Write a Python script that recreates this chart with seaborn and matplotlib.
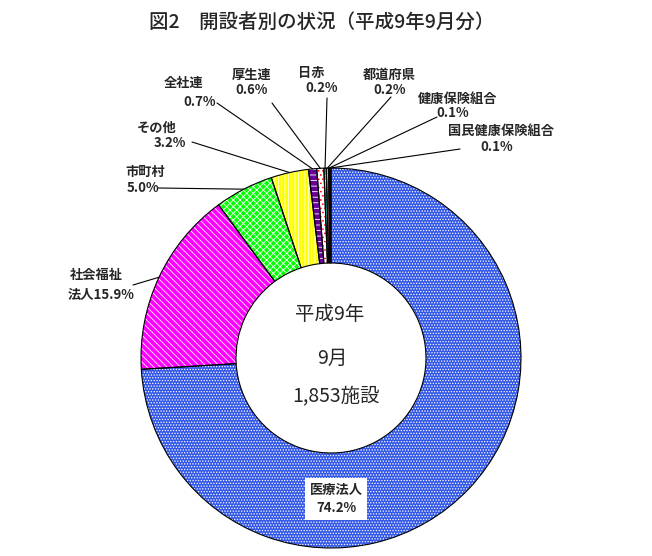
import matplotlib
matplotlib.use("Agg")
import matplotlib.pyplot as plt
import seaborn as sns
import numpy as np

# ---- data ----
categories = ["医療法人", "社会福祉法人", "市町村", "その他", "全社連", "厚生連",
              "日赤", "都道府県", "健康保険組合", "国民健康保険組合"]
shares = [74.2, 15.9, 5.0, 3.2, 0.7, 0.6, 0.2, 0.2, 0.1, 0.1]
title = "図2　開設者別の状況（平成9年9月分）"
center_lines = ["平成9年", "9月", "1,853施設"]

# ---- style ----
face_colors = ["#3358e8", "#ff00ff", "#00ff00", "#ffff00", "#660099", "#ffffff",
               "#00ffff", "#ff8080", "#ffffff", "#ffffff"]
hatch_colors = ["white", "white", "white", "white", "white", "red",
                "white", "#ff8080", "white", "white"]
hatches = ["......", "\\\\\\\\\\", "xxxxx", "|||||", "---", "....", "---", "", "", ""]

# label layout in image pixels: (name line centre, pct line centre, leader start)
label_layout = [
    None,
    ((96, 275), (101, 295), (133, 285)),
    ((145, 172), (143, 188), (158, 188)),
    ((157, 128), (170, 143), (192, 142)),
    ((184, 83), (200, 102), (217, 103)),
    ((252, 75), (252, 90), (272, 103)),
    ((311, 73), (322, 88), (327, 98)),
    ((389, 75), (390, 90), (391, 97)),
    ((458, 99), (453, 113), (437, 117)),
    ((501, 131), (497, 147), (460, 149)),
]

sns.set_theme(style="white")
plt.rcParams["font.family"] = ["Noto Sans CJK JP", "DejaVu Sans"]
plt.rcParams["hatch.linewidth"] = 0.6

W, H = 652, 556
fig = plt.figure(figsize=(W / 100, H / 100), dpi=100)
fig.patch.set_facecolor("white")

cx, cy, R = 331, 358, 190
ax = fig.add_axes([(cx - R) / W, (H - cy - R) / H, 2 * R / W, 2 * R / H])

wedges, _ = ax.pie(shares, startangle=90, counterclock=False, colors=face_colors,
                   wedgeprops=dict(width=0.5, linewidth=0))
for w, hc, h in zip(wedges, hatch_colors, hatches):
    w.set_edgecolor(hc)
    w.set_linewidth(0)
    if h:
        w.set_hatch(h)
ax.pie(shares, startangle=90, counterclock=False, colors=["none"] * len(shares),
       wedgeprops=dict(width=0.5, linewidth=0.8, edgecolor="black", fill=False))
ax.set_xlim(-1, 1)
ax.set_ylim(-1, 1)
ax.set_axis_off()


def fx(x):
    return x / W


def fy(y):
    return 1 - y / H


# title
fig.text(fx(322), fy(22), title, ha="center", va="center", fontsize=14,
         fontweight="medium")

# centre text
for (x, y), s in zip([(330, 314), (332, 358), (336, 397)], center_lines):
    fig.text(fx(x), fy(y), s, ha="center", va="center", fontsize=14)

total = sum(shares)
cum = np.cumsum([0] + shares[:-1])
lab_fs = 9.5
for i, (name, v) in enumerate(zip(categories, shares)):
    pct = f"{v:.1f}%"
    if i == 0:
        fig.text(fx(336), fy(499), f"{name}\n{pct}", ha="center", va="center",
                 fontsize=lab_fs, fontweight="bold", linespacing=1.35,
                 bbox=dict(facecolor="white", edgecolor="none", boxstyle="square,pad=0.35"))
        continue
    (nx, ny), (px, py), (lx, ly) = label_layout[i]
    if name == "社会福祉法人":
        line1, line2 = "社会福祉", "法人" + pct
    else:
        line1, line2 = name, pct
    fig.text(fx(nx), fy(ny), line1, ha="center", va="center",
             fontsize=lab_fs, fontweight="bold")
    fig.text(fx(px), fy(py), line2, ha="center", va="center",
             fontsize=lab_fs, fontweight="bold")
    theta = np.deg2rad(90 - (cum[i] + v / 2) / total * 360)
    ax.annotate("", xy=(np.cos(theta), np.sin(theta)), xycoords="data",
                xytext=(lx, H - ly), textcoords="figure pixels",
                arrowprops=dict(arrowstyle="-", lw=0.8, color="black",
                                shrinkA=0, shrinkB=0),
                annotation_clip=False)

fig.savefig("out.png", dpi=100, facecolor="white")
